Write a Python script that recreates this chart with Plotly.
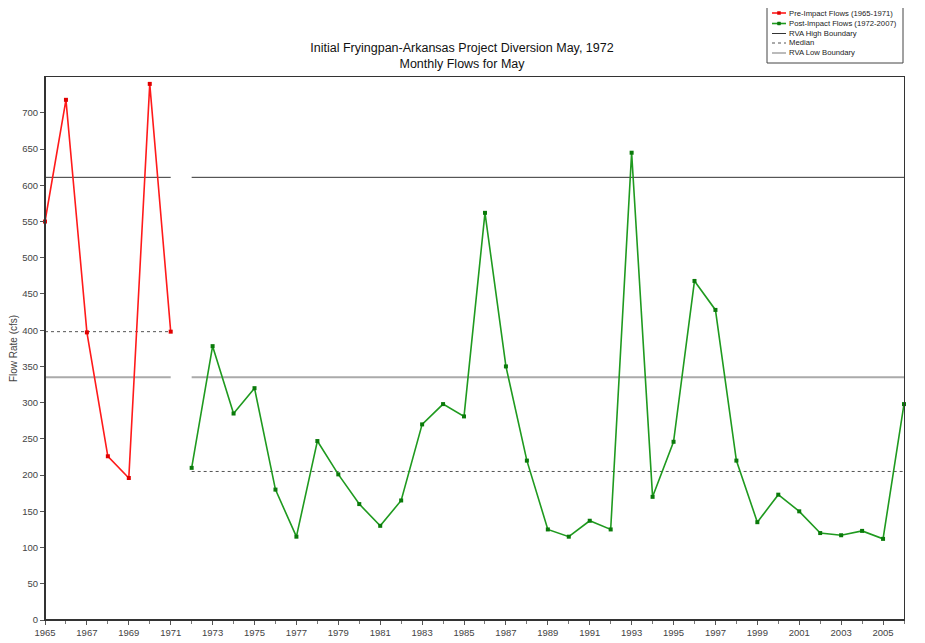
import plotly.graph_objects as go

pre_years = [1965, 1966, 1967, 1968, 1969, 1970, 1971]
pre_flows = [550, 718, 397, 226, 196, 740, 398]

post_years = list(range(1972, 2007))
post_flows = [210, 378, 285, 320, 180, 115, 247, 201, 160, 130,
              165, 270, 298, 281, 562, 350, 220, 125, 115, 137,
              125, 645, 170, 246, 468, 428, 220, 135, 173, 150,
              120, 117, 123, 112, 298]

pre_span = [1965, 1971]
post_span = [1972, 2006]
rva_high = [611, 611]
median = [398, 205]
rva_low = [335, 335]

series_names = ["Pre-Impact Flows (1965-1971)", "Post-Impact Flows (1972-2007)",
                "RVA High Boundary", "Median", "RVA Low Boundary"]
title_text = "Initial Fryingpan-Arkansas Project Diversion May, 1972<br>Monthly Flows for May"

# page has an 8px body margin; work in page pixels and convert
OFF = 8
W, H = 925 - OFF, 643 - OFF
ML, MR, MT, MB = 45 - OFF, 21, 77 - OFF, 23
PW, PH = W - ML - MR, H - MT - MB

def px(xpage):
    return (xpage - OFF - ML) / PW

def py(ypage):
    return (H - MB - (ypage - OFF)) / PH

RED_LINE, RED_MK = "#ff1a1a", "#e00000"
GRN_LINE, GRN_MK = "#1f9a1f", "#0a7a0a"
styles = [
    dict(color="#333333", width=1, dash="solid"),
    dict(color="#555555", width=1, dash="dot"),
    dict(color="#aaaaaa", width=2, dash="solid"),
]

fig = go.Figure()

def seg(vals):
    xs = [pre_span[0], pre_span[1], None, post_span[0], post_span[1]]
    ys = [vals[0], vals[0], None, vals[1], vals[1]]
    return xs, ys

for vals, name, st in zip([rva_high, median, rva_low], series_names[2:], styles):
    x, y = seg(vals)
    fig.add_trace(go.Scatter(x=x, y=y, mode="lines", name=name, line=st, showlegend=False))

fig.add_trace(go.Scatter(x=pre_years, y=pre_flows, mode="lines+markers",
                         name=series_names[0], showlegend=False, cliponaxis=False,
                         line=dict(color=RED_LINE, width=1.6),
                         marker=dict(symbol="square", size=4, color=RED_MK)))
fig.add_trace(go.Scatter(x=post_years, y=post_flows, mode="lines+markers",
                         name=series_names[1], showlegend=False, cliponaxis=False,
                         line=dict(color=GRN_LINE, width=1.6),
                         marker=dict(symbol="square", size=4, color=GRN_MK)))

shapes = []
annotations = []
# heavier left and bottom axis lines
shapes.append(dict(type="line", xref="paper", yref="paper", x0=0, x1=0, y0=0, y1=1,
                   line=dict(color="#333333", width=2)))
shapes.append(dict(type="line", xref="paper", yref="paper", x0=0, x1=1, y0=0, y1=0,
                   line=dict(color="#333333", width=2)))

# manual legend
shapes.append(dict(type="rect", xref="paper", yref="paper",
                   x0=px(767), x1=px(903), y0=py(63), y1=py(5),
                   line=dict(color="#444444", width=1), fillcolor="white"))
legend_y = [13, 23.5, 33.5, 43, 53]
legend_lines = [dict(color=RED_LINE, width=1.6, dash="solid"),
                dict(color=GRN_LINE, width=1.6, dash="solid")] + styles
for i, (name, yy, ln) in enumerate(zip(series_names, legend_y, legend_lines)):
    shapes.append(dict(type="line", xref="paper", yref="paper",
                       x0=px(772), x1=px(786), y0=py(yy), y1=py(yy),
                       line=dict(color=ln["color"], width=min(ln["width"], 1.6), dash=ln["dash"])))
    if i < 2:
        mk = RED_MK if i == 0 else GRN_MK
        shapes.append(dict(type="rect", xref="paper", yref="paper",
                           x0=px(777.5), x1=px(780.5), y0=py(yy + 1.5), y1=py(yy - 1.5),
                           line=dict(color=mk, width=0.5), fillcolor=mk))
    annotations.append(dict(text=name, xref="paper", yref="paper",
                            x=px(787), y=py(yy), xanchor="left", yanchor="middle",
                            showarrow=False, font=dict(size=7.7, color="#222222")))

fig.update_layout(
    width=W, height=H,
    margin=dict(l=ML, r=MR, t=MT, b=MB, autoexpand=False),
    paper_bgcolor="white", plot_bgcolor="white",
    font=dict(family="Arial, Liberation Sans, sans-serif", color="#333333"),
    title=dict(text=title_text, xref="container", yref="container",
               x=(462 - OFF) / W, xanchor="center", y=1 - (52 - OFF) / H, yanchor="middle",
               font=dict(size=12.5, color="#111111")),
    showlegend=False,
    shapes=shapes,
    annotations=annotations,
    xaxis=dict(range=[1965, 2006], tick0=1965, dtick=2, ticks="outside", ticklen=4,
               tickcolor="#555555", showgrid=False, zeroline=False, automargin=False,
               showline=True, linecolor="#333333", linewidth=1, mirror=True,
               tickfont=dict(size=9.5, color="#444444"),
               minor=dict(dtick=1, tick0=1965, ticks="outside", ticklen=3, tickcolor="#777777")),
    yaxis=dict(range=[0, 749.5], tick0=0, dtick=50, ticks="outside", ticklen=4,
               tickcolor="#555555", showgrid=False, zeroline=False, automargin=False,
               showline=True, linecolor="#333333", linewidth=1, mirror=True,
               tickfont=dict(size=9.5, color="#444444"),
               title=dict(text="Flow Rate (cfs)", font=dict(size=10, color="#444444"), standoff=2)),
)

fig.write_html("out.html")
